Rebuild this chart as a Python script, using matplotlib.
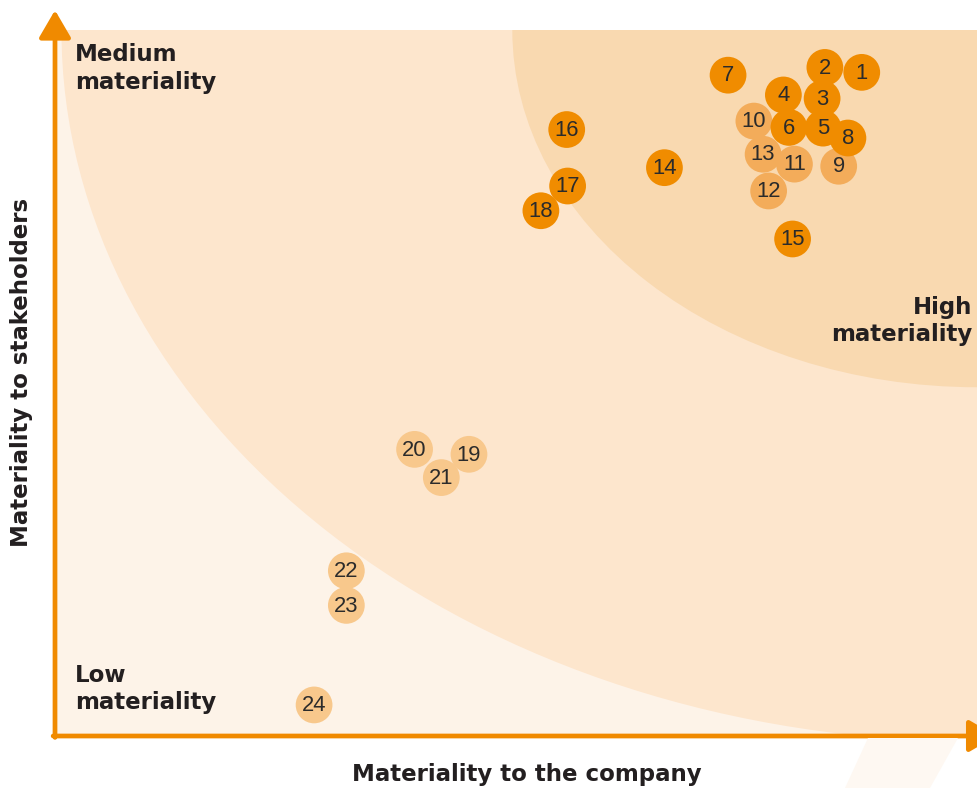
import matplotlib
matplotlib.use("Agg")
import matplotlib.pyplot as plt
from matplotlib.patches import Ellipse, Rectangle, Polygon

# ---- data (0-100 scale on both axes) ----
labels = [str(i) for i in range(1, 25)]
company = [87.5, 83.5, 83.2, 79.0, 83.3, 79.6, 73.0, 86.0, 85.0, 75.8, 80.2, 77.4,
           76.8, 66.1, 80.0, 55.5, 55.6, 52.7, 44.9, 39.0, 41.9, 31.6, 31.6, 28.1]
stakeholders = [94.0, 94.7, 90.3, 90.8, 86.1, 86.2, 93.6, 84.7, 80.7, 87.1, 81.0, 77.2,
                82.4, 80.5, 70.4, 85.9, 77.9, 74.4, 39.9, 40.6, 36.6, 23.4, 18.5, 4.4]
level = ["high"] * 8 + ["mid"] * 5 + ["high"] * 5 + ["low"] * 6

zone_high_radius = (50.4, 50.6)
zone_mid_radius = (99.3, 100.8)

ORANGE = "#F08A00"
point_colors = {"high": "#F08C00", "mid": "#F3AC5A", "low": "#F8C88C"}
ZONE_LOW = "#FDF3E8"
ZONE_MID = "#FDE6CD"
ZONE_HIGH = "#F9D9B0"
TEXT = "#231F20"

W, H = 977, 788
fig = plt.figure(figsize=(W / 100, H / 100), dpi=100)
ax = fig.add_axes([55 / W, (H - 736) / H, 922 / W, 706 / H])
ax.set_xlim(0, 100)
ax.set_ylim(0, 100)
ax.axis("off")

# zones
ax.add_patch(Rectangle((0, 0), 100, 100, facecolor=ZONE_LOW, edgecolor="none", zorder=0))
ax.add_patch(Ellipse((100, 100), 2 * zone_mid_radius[0], 2 * zone_mid_radius[1],
                     facecolor=ZONE_MID, edgecolor="none", zorder=1))
ax.add_patch(Ellipse((100, 100), 2 * zone_high_radius[0], 2 * zone_high_radius[1],
                     facecolor=ZONE_HIGH, edgecolor="none", zorder=2))

# faint decorative shape under x axis
fig.patches.append(Polygon([[845 / W, 0], [930 / W, 0], [958 / W, 50 / H], [868 / W, 50 / H]],
                           closed=True, transform=fig.transFigure,
                           facecolor="#FEF8F2", edgecolor="none", zorder=0))

# points
z = 5
for i in sorted(range(len(labels)),
                key=lambda k: ({"low": 0, "mid": 1, "high": 2}[level[k]], -k)):
    ax.scatter(company[i], stakeholders[i], s=700, color=point_colors[level[i]],
               edgecolors="none", zorder=z, clip_on=False)
    ax.text(company[i], stakeholders[i] - 0.1, labels[i], ha="center", va="center",
            fontsize=15.8, fontfamily=["Liberation Sans", "DejaVu Sans"],
            color="#2B2B2B", zorder=z + 0.5)
    z += 1

# axes arrows
ax.annotate("", xy=(0, 1.028), xytext=(0, -0.002), xycoords="axes fraction",
            arrowprops=dict(arrowstyle="-|>,head_length=1.2,head_width=0.7", lw=3.4,
                            color=ORANGE, shrinkA=0, shrinkB=0, mutation_scale=14),
            annotation_clip=False, zorder=50)
ax.annotate("", xy=(1.021, 0), xytext=(-0.002, 0), xycoords="axes fraction",
            arrowprops=dict(arrowstyle="-|>,head_length=1.2,head_width=0.7", lw=3.4,
                            color=ORANGE, shrinkA=0, shrinkB=0, mutation_scale=14),
            annotation_clip=False, zorder=50)

# zone labels
kw = dict(fontsize=16.5, fontweight="bold", family="DejaVu Sans", color=TEXT,
          linespacing=1.25, transform=ax.transAxes, zorder=60)
ax.text(20 / 922, (736 - 43) / 706, "Medium\nmateriality", ha="left", va="top", **kw)
ax.text(917 / 922, (736 - 296) / 706, "High\nmateriality", ha="right", va="top",
        multialignment="right", **kw)
ax.text(20 / 922, (736 - 664) / 706, "Low\nmateriality", ha="left", va="top", **kw)

# axis titles
fig.text(527 / W, 1 - 774 / H, "Materiality to the company", ha="center", va="center",
         fontsize=16.5, fontweight="bold", family="DejaVu Sans", color=TEXT)
fig.text(22 / W, 1 - 372 / H, "Materiality to stakeholders", ha="center", va="center",
         rotation=90, fontsize=16.5, fontweight="bold", family="DejaVu Sans", color=TEXT)

fig.savefig("out.png", dpi=100, facecolor="white")
